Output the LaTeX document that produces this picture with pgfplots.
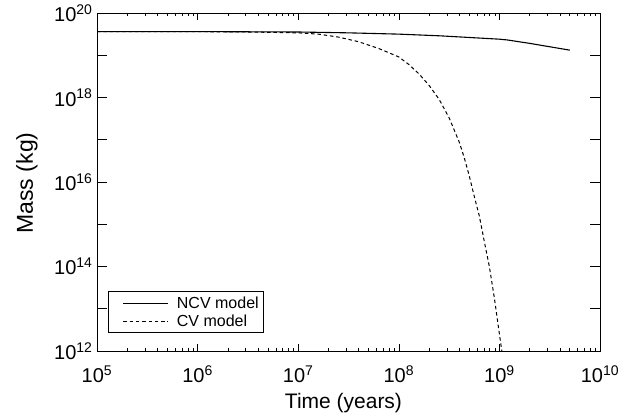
\documentclass[border=0pt]{standalone}
\usepackage{fontspec}
\setmainfont{Liberation Sans}
\usepackage{pgfplots}
\pgfplotsset{compat=1.18}
\newcommand\pw[1]{10\textsuperscript{#1}}
\begin{document}
\begin{tikzpicture}
\begin{axis}[
  name=ax,
  scale only axis, width=503pt, height=338pt,
  xmode=log, ymode=log,
  xmin=1e5, xmax=1e10, ymin=1e12, ymax=1e20,
  xtick={1e5,1e6,1e7,1e8,1e9,1e10},
  xticklabels={\pw{5},\pw{6},\pw{7},\pw{8},\pw{9},\pw{10}},
  ytick={1e12,1e13,1e14,1e15,1e16,1e17,1e18,1e19,1e20},
  yticklabels={\pw{12},,\pw{14},,\pw{16},,\pw{18},,\pw{20}},
  yminorticks=false,
  tick align=inside,
  major tick length=7pt, minor tick length=3.5pt,
  ytick style={/pgfplots/major tick length=10pt},
  tick style={black, line width=0.6pt},
  axis line style={line width=0.8pt},
  tick label style={font=\fontsize{20}{23}\selectfont},
  xticklabel style={yshift=-11pt},
  yticklabel style={xshift=-1pt},
  xlabel style={font=\fontsize{21}{24}\selectfont, at={(axis description cs:0.49,-0.1716)}, anchor=base},
  xlabel={Time (years)},
  legend style={at={(0.022,0.053)}, anchor=south west, font=\fontsize{16}{18}\selectfont,
    draw=black, line width=0.6pt, inner xsep=3pt, inner ysep=3pt, row sep=1pt, cells={anchor=west},
    /tikz/every odd column/.append style={column sep=6pt}},
  legend image code/.code={\path[draw=none] (-12pt,0pt) -- (0pt,0pt); \draw[#1] (0pt,0pt) -- (45pt,0pt);},
]
\addplot[black, line width=1.1pt] coordinates {
(1e5,3.63e19) (1e6,3.63e19) (1e7,3.55e19) (3.16e7,3.39e19) (1e8,3.16e19)
(2.57e8,2.88e19) (1e9,2.40e19) (1.2e9,2.30e19) (2e9,1.91e19) (5.01e9,1.32e19)
};
\addlegendentry{NCV model}
\addplot[black, line width=1.0pt, dash pattern=on 3.5pt off 2.8pt] coordinates {
(1e5,3.63e19) (1e6,3.61e19) (3.16e6,3.55e19) (1e7,3.39e19) (1.585e7,3.16e19)
(2.512e7,2.69e19) (3.981e7,2.09e19) (6.31e7,1.445e19) (1e8,9.12e18)
(1.259e8,6.03e18) (1.585e8,3.63e18) (1.995e8,1.95e18) (2.512e8,9.12e17)
(3.162e8,3.31e17) (3.981e8,8.91e16) (4.467e8,3.8e16) (5.012e8,1.41e16)
(5.623e8,4.57e15) (6.31e8,1.58e15) (7.079e8,3.89e14) (7.943e8,1e14)
(8.913e8,1.78e13) (1e9,2.51e12) (1.072e9,7.94e11)
};
\addlegendentry{CV model}
\end{axis}
\node[rotate=90, anchor=base, font=\fontsize{23}{26}\selectfont] at ([xshift=-64pt,yshift=-1pt]ax.west) {Mass (kg)};
\pgfresetboundingbox
\path[use as bounding box] ([xshift=-97pt,yshift=-61pt]ax.south west) rectangle ([xshift=33pt,yshift=13pt]ax.north east);
\end{tikzpicture}
\end{document}
